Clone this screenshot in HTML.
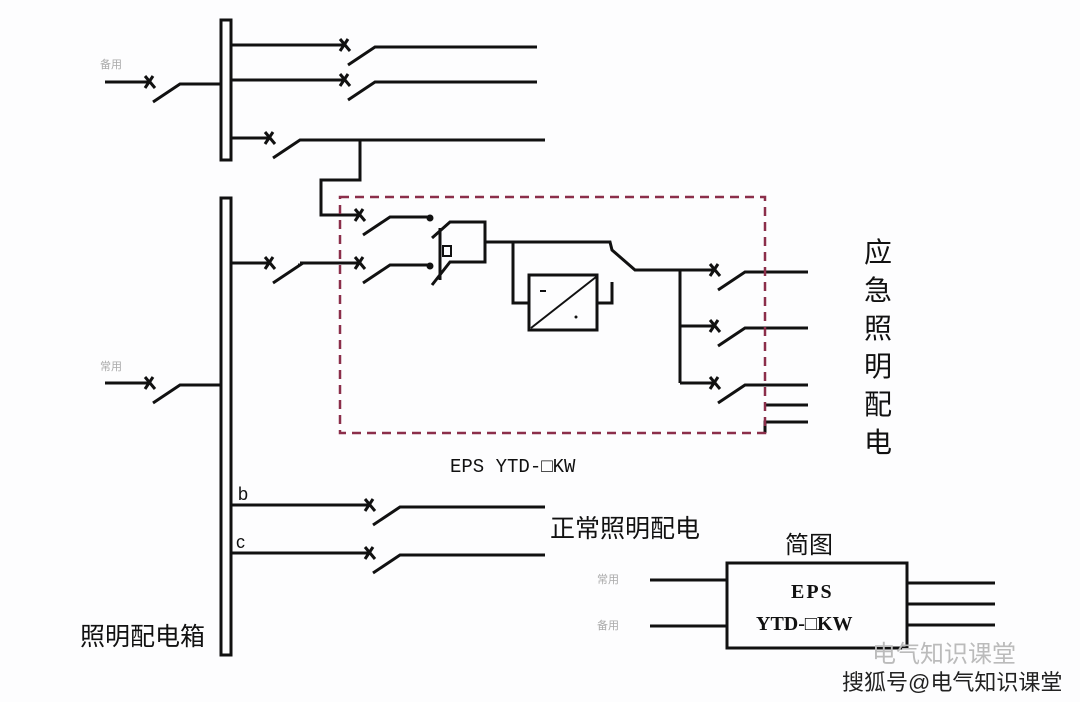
<!DOCTYPE html>
<html><head><meta charset="utf-8"><style>
body{margin:0;background:#fff;width:1080px;height:702px;overflow:hidden}
svg{display:block}
.cj{font-family:"Liberation Sans","Noto Sans CJK SC",sans-serif}
.mo{font-family:"Liberation Mono",monospace}
.se{font-family:"Liberation Serif",serif;font-weight:bold}
</style></head><body>
<svg id="s" width="1080" height="702" viewBox="0 0 1080 702" xmlns="http://www.w3.org/2000/svg">
<rect width="1080" height="702" fill="#fdfdfe"/>
<g stroke="#111" stroke-width="3" fill="none" id="g">
<rect x="221" y="20" width="10" height="140" fill="#fff"/>
<rect x="221" y="198" width="10" height="457" fill="#fff"/>
<polyline points="360,140 360,180 321,180 321,215 360,215"/>
<polyline points="432,238 450,222 485,222 485,262 450,262 432,285"/>
<line x1="440" y1="228" x2="440" y2="280"/>
<rect x="443" y="246" width="8" height="10" stroke-width="2"/>
<polyline points="485,242 610,242 612,250 635,270 715,270"/>
<polyline points="513,242 513,303 529,303"/>
<rect x="529" y="275" width="68" height="55"/>
<line x1="531" y1="328" x2="596" y2="277" stroke-width="2"/>
<line x1="540" y1="291" x2="546" y2="291" stroke-width="2"/>
<circle cx="576" cy="317" r="1" fill="#111" stroke-width="1"/>
<polyline points="597,303 612,303 612,282"/>
<line x1="680" y1="270" x2="680" y2="383"/>
<line x1="680" y1="326" x2="715" y2="326"/>
<line x1="680" y1="383" x2="715" y2="383"/>
<line x1="765" y1="405" x2="808" y2="405"/>
<polyline points="765,433 765,422 808,422"/>
<rect x="727" y="563" width="180" height="85"/>
<line x1="650" y1="580" x2="727" y2="580"/><line x1="650" y1="626" x2="727" y2="626"/>
<line x1="907" y1="583" x2="995" y2="583"/><line x1="907" y1="604" x2="995" y2="604"/><line x1="907" y1="625" x2="995" y2="625"/>
</g>
<rect x="340" y="197" width="425" height="236" fill="none" stroke="#8b2e4a" stroke-width="2.5" stroke-dasharray="9,6"/>
<g font-size="11" fill="#aaa" class="cj"><text x="100" y="68">备用</text><text x="100" y="370">常用</text><text x="597" y="583">常用</text><text x="597" y="629">备用</text></g>
<g fill="#111">
<text x="238" y="500" font-size="18" class="cj">b</text><text x="236" y="548" font-size="18" class="cj">c</text>
<text x="550" y="537" font-size="25" class="cj">正常照明配电</text>
<text x="450" y="472" font-size="19" class="mo">EPS YTD-□KW</text>
<text x="80" y="645" font-size="25" class="cj">照明配电箱</text>
<text x="785" y="553" font-size="24" class="cj">简图</text>
<text x="791" y="598" font-size="20" class="se" letter-spacing="2">EPS</text>
<text x="756" y="630" font-size="20" class="se">YTD-□KW</text>
<g font-size="28" class="cj"><text x="864" y="262">应</text><text x="864" y="300">急</text><text x="864" y="338">照</text><text x="864" y="376">明</text><text x="864" y="414">配</text><text x="864" y="452">电</text></g>
<text x="872" y="662" font-size="24" fill="#bbb" class="cj">电气知识课堂</text>
<text x="842" y="690" font-size="22" fill="#222" class="cj">搜狐号@电气知识课堂</text>
</g>
</svg>
<script>
var g=document.getElementById('g'),ns='http://www.w3.org/2000/svg';
function L(p){var e=document.createElementNS(ns,'polyline');e.setAttribute('points',p);g.appendChild(e);}
function sw(x0,sx,y,x1,o){
 L(x0+','+y+' '+sx+','+y);
 L((sx-5)+','+(y-6)+' '+(sx+5)+','+(y+6));L((sx-5)+','+(y+6)+' '+(sx+3)+','+(y-6));
 L((sx+3)+','+(y+20)+' '+(sx+30)+','+(y+2)+' '+x1+','+(y+2));
 if(o){var c=document.createElementNS(ns,'circle');c.setAttribute('cx',x1+2);c.setAttribute('cy',y+3);c.setAttribute('r',2);c.setAttribute('fill','#111');g.appendChild(c);}
}
sw(105,150,82,221);
sw(231,345,45,537);sw(231,345,80,537);sw(231,270,138,545);
sw(321,360,215,428,1);
sw(231,270,263,298);sw(300,360,263,428,1);
sw(105,150,383,221);
sw(231,370,505,545);sw(231,370,553,545);
sw(690,715,270,808);sw(690,715,326,808);sw(690,715,383,808);
</script>
</body></html>
